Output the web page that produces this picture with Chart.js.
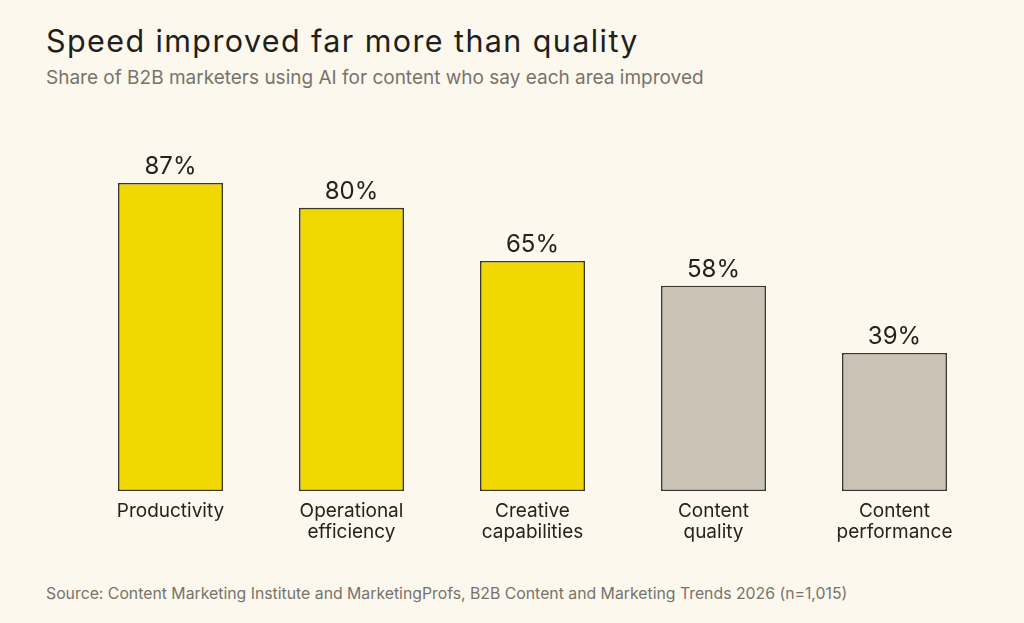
<!DOCTYPE html>
<html>
<head>
<meta charset="utf-8">
<script src="https://cdn.jsdelivr.net/npm/chart.js@4"></script>
<style>
  body { margin: 0; background: #fcf8ee; font-family: Inter, sans-serif; }
  #page { position: relative; width: 1024px; height: 623px; overflow: hidden; }
  h1 { position: absolute; left: 46px; top: 22px; margin: 0; font-size: 30.5px; font-weight: 400; color: #1f1f1c; letter-spacing: 1.4px; }
  .sub { position: absolute; left: 46px; top: 66px; margin: 0; font-size: 19px; color: #77736b; }
  .source { position: absolute; left: 46px; top: 584px; margin: 0; font-size: 15.8px; color: #77736b; }
  #wrap { position: absolute; left: 0; top: 100px; width: 1024px; height: 451px; }
</style>
</head>
<body>
<div id="page">
  <h1>Speed improved far more than quality</h1>
  <p class="sub">Share of B2B marketers using AI for content who say each area improved</p>
  <div id="wrap"><canvas id="chart"></canvas></div>
  <p class="source">Source: Content Marketing Institute and MarketingProfs, B2B Content and Marketing Trends 2026 (n=1,015)</p>
</div>
<script>
const categories = [
  ['Productivity'],
  ['Operational', 'efficiency'],
  ['Creative', 'capabilities'],
  ['Content', 'quality'],
  ['Content', 'performance']
];
const shares = [87, 80, 65, 58, 39];
const barColors = ['#f0d800', '#f0d800', '#f0d800', '#cac2b5', '#cac2b5'];

// draws the "87%" labels above each bar
const valueLabels = {
  id: 'valueLabels',
  afterDatasetsDraw(chart) {
    const ctx = chart.ctx;
    const meta = chart.getDatasetMeta(0);
    ctx.save();
    ctx.font = '24px Inter, sans-serif';
    ctx.fillStyle = '#24231f';
    ctx.textAlign = 'center';
    ctx.textBaseline = 'alphabetic';
    meta.data.forEach((bar, i) => {
      ctx.fillText(shares[i] + '%', bar.x, bar.y - 9);
    });
    ctx.restore();
  }
};

new Chart(document.getElementById('chart'), {
  type: 'bar',
  data: {
    labels: categories,
    datasets: [{
      data: shares,
      backgroundColor: barColors,
      borderColor: '#3b3730',
      borderWidth: 1.6,
      borderSkipped: false,
      categoryPercentage: 1,
      barPercentage: 0.58
    }]
  },
  options: {
    responsive: true,
    maintainAspectRatio: false,
    animation: false,
    layout: { padding: { left: 80, right: 39, top: 37, bottom: 0 } },
    plugins: {
      legend: { display: false },
      tooltip: { enabled: false }
    },
    scales: {
      x: {
        grid: { display: false },
        border: { display: false },
        ticks: {
          color: '#24231f',
          padding: 2,
          maxRotation: 0,
          font: { family: 'Inter, sans-serif', size: 19, lineHeight: 1.1 }
        },
        afterFit(axis) { axis.height = 60; }
      },
      y: {
        display: false,
        min: 0,
        max: 100
      }
    }
  },
  plugins: [valueLabels]
});
</script>
</body>
</html>
